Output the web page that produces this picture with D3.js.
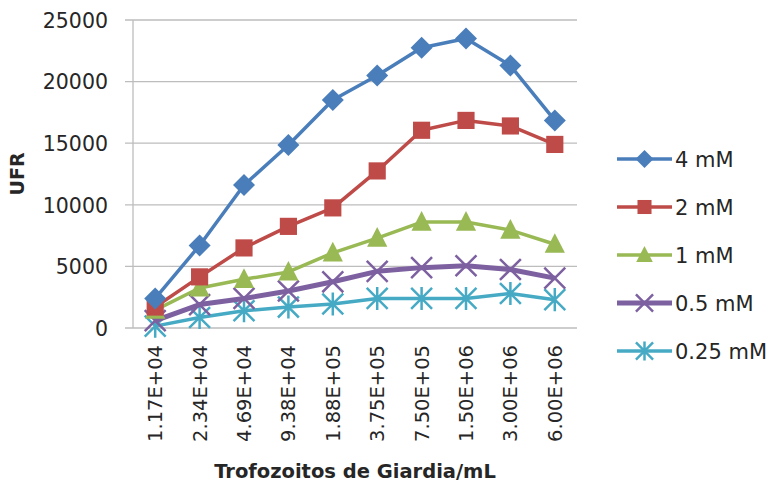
<!DOCTYPE html>
<html><head><meta charset="utf-8">
<script src="https://cdn.jsdelivr.net/npm/d3@7"></script>
<style>body{margin:0;background:#fff}svg{display:block}</style>
</head><body>
<svg id="c" width="773" height="484"></svg>
<script>
const categories = ["1.17E+04","2.34E+04","4.69E+04","9.38E+04","1.88E+05","3.75E+05","7.50E+05","1.50E+06","3.00E+06","6.00E+06"];
const s4 = [2400, 6700, 11600, 14850, 18500, 20500, 22750, 23500, 21300, 16850];
const s2 = [1700, 4150, 6500, 8250, 9750, 12750, 16050, 16850, 16400, 14900];
const s1 = [1450, 3250, 3950, 4550, 6100, 7300, 8600, 8600, 7950, 6800];
const s05 = [600, 1900, 2400, 3000, 3750, 4600, 4900, 5050, 4750, 4050];
const s025 = [150, 850, 1400, 1700, 1950, 2400, 2400, 2400, 2800, 2300];
const seriesNames = ["4 mM","2 mM","1 mM","0.5 mM","0.25 mM"];
const yTicks = [0, 5000, 10000, 15000, 20000, 25000];

const series = [
  {name: seriesNames[0], values: s4, color: "#4a7ebb", marker: "diamond", w: 3.5},
  {name: seriesNames[1], values: s2, color: "#be4b48", marker: "square", w: 3.5},
  {name: seriesNames[2], values: s1, color: "#98b954", marker: "triangle", w: 3.5},
  {name: seriesNames[3], values: s05, color: "#7d60a0", marker: "x", w: 5},
  {name: seriesNames[4], values: s025, color: "#46aac5", marker: "star", w: 3.5}
];

const svg = d3.select("#c");
const font = "'DejaVu Sans', sans-serif";
const L = 133, R = 577, T = 20, B = 328;
const x = d3.scaleBand().domain(categories).range([L, R]);
const y = d3.scaleLinear().domain([0, 25000]).range([B, T]);

// gridlines
svg.append("g").selectAll("line").data(yTicks).join("line")
  .attr("x1", L - 8).attr("x2", R).attr("y1", d => y(d)).attr("y2", d => y(d))
  .attr("stroke", "#bdbdbd").attr("stroke-width", 1.3);
svg.append("line").attr("x1", L).attr("x2", L).attr("y1", T).attr("y2", B)
  .attr("stroke", "#bdbdbd").attr("stroke-width", 1.3);

// y axis labels
const yAxis = d3.axisLeft(y).tickValues(yTicks).tickSize(0).tickPadding(0).tickFormat(d3.format("d"));
const ga = svg.append("g").attr("transform", `translate(${L - 25},0)`).call(yAxis);
ga.select(".domain").remove();
ga.selectAll("text").attr("font-family", font).attr("font-size", 20.5).attr("fill", "#262626").attr("dy", "0.36em");

// x axis labels
const xAxis = d3.axisBottom(x).tickSize(0).tickPadding(0);
const gx = svg.append("g").attr("transform", `translate(0,${B})`).call(xAxis);
gx.select(".domain").remove();
gx.selectAll("text").attr("font-family", font).attr("font-size", 19.5).attr("fill", "#262626")
  .attr("text-anchor", "end").attr("dy", null)
  .attr("transform", "translate(7,17) rotate(-90)").attr("x", 0).attr("y", 0);

// titles
svg.append("text").attr("transform", "translate(24,174) rotate(-90)").attr("text-anchor", "middle")
  .attr("font-family", font).attr("font-weight", "bold").attr("font-size", 19).attr("fill", "#262626").text("UFR");
svg.append("text").attr("x", 355).attr("y", 478).attr("text-anchor", "middle")
  .attr("font-family", font).attr("font-weight", "bold").attr("font-size", 19.5).attr("fill", "#262626").text("Trofozoitos de Giardia/mL");

function marker(g, type, color, s) {
  if (type === "diamond") {
    g.append("path").attr("d", `M0,${-s}L${s},0L0,${s}L${-s},0Z`).attr("fill", color);
  } else if (type === "square") {
    g.append("rect").attr("x", -s * 0.78).attr("y", -s * 0.78).attr("width", s * 1.56).attr("height", s * 1.56).attr("fill", color);
  } else if (type === "triangle") {
    g.append("path").attr("d", `M0,${-s * 1.0}L${s * 0.92},${s * 0.78}L${-s * 0.92},${s * 0.78}Z`).attr("fill", color);
  } else if (type === "x") {
    const k = s * 0.95;
    g.append("path").attr("d", `M${-k},${-k}L${k},${k}M${-k},${k}L${k},${-k}`).attr("stroke", color).attr("stroke-width", 2.5).attr("fill", "none");
  } else if (type === "star") {
    const k = s * 0.95;
    g.append("path").attr("d", `M${-k},${-k}L${k},${k}M${-k},${k}L${k},${-k}M0,${-s * 1.05}L0,${s * 1.05}`).attr("stroke", color).attr("stroke-width", 2.5).attr("fill", "none");
  }
}

const line = d3.line().x((d, i) => x(categories[i]) + x.bandwidth() / 2).y(d => y(d));
series.slice().reverse().forEach(sr => {
  svg.append("path").attr("d", line(sr.values)).attr("fill", "none")
    .attr("stroke", sr.color).attr("stroke-width", sr.w).attr("stroke-linejoin", "round");
  sr.values.forEach((v, i) => {
    const g = svg.append("g").attr("transform", `translate(${x(categories[i]) + x.bandwidth() / 2},${y(v)})`);
    marker(g, sr.marker, sr.color, 11);
  });
});

// legend
const lg = svg.append("g");
series.forEach((sr, i) => {
  const cy = 159 + i * 48;
  lg.append("line").attr("x1", 617).attr("x2", 672).attr("y1", cy).attr("y2", cy)
    .attr("stroke", sr.color).attr("stroke-width", sr.w);
  const g = lg.append("g").attr("transform", `translate(644.5,${cy})`);
  marker(g, sr.marker, sr.color, 9);
  lg.append("text").attr("x", 675).attr("y", cy).attr("dy", "0.36em")
    .attr("font-family", font).attr("font-size", 21).attr("fill", "#262626").text(sr.name);
});
</script>
</body></html>
